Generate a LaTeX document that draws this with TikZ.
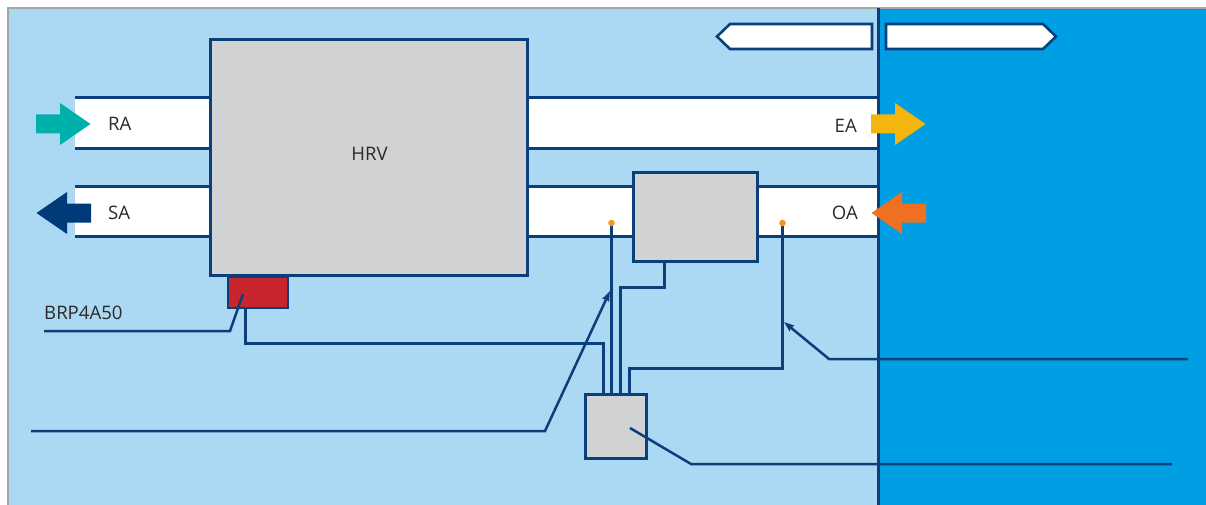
\documentclass[tikz,border=0pt]{standalone}
\usepackage{fontspec}
\setmainfont{Open Sans}
\usetikzlibrary{arrows.meta}
\definecolor{indoor}{HTML}{ABD9F4}
\definecolor{outdoor}{HTML}{009FE3}
\definecolor{navy}{HTML}{0B3F7B}
\definecolor{unitgrey}{HTML}{D0D2D3}
\definecolor{edge}{HTML}{A3A5A7}
\definecolor{teal}{HTML}{00B0AA}
\definecolor{supply}{HTML}{003A78}
\definecolor{exhaust}{HTML}{F4B50F}
\definecolor{intake}{HTML}{EE7020}
\definecolor{sensordot}{HTML}{F7941D}
\definecolor{adapter}{HTML}{C8242B}
\definecolor{labeltext}{HTML}{2B2A29}

\begin{document}
\begin{tikzpicture}[x=1pt,y=-1pt,
	every node/.style={font=\fontsize{18.6}{22}\selectfont, text=labeltext, inner sep=0pt},
	unit/.style={draw=navy, line width=2.6pt, fill=unitgrey, minimum width=#1},
	wire/.style={draw=navy, line width=3pt},
	leader/.style={draw=navy, line width=2.5pt}]
	\useasboundingbox (0,0) rectangle (1206,505);
	\fill[indoor] (8,8) rectangle (878,505);
	\fill[outdoor] (878,8) rectangle (1206,505);
	\draw[edge, line width=2.4pt] (8,505) -- (8,8) -- (1206,8);

	% ducts
	\foreach \ytop/\ybot in {98/149, 186/236} {
		\fill[white] (75,\ytop) rectangle (877,\ybot);
		\draw[wire] (75,\ytop) -- (878,\ytop);
		\draw[wire] (75,\ybot) -- (878,\ybot);
	}
	\draw[navy, line width=3pt] (878,8) -- (878,505);

	\node[unit=317.5pt, minimum height=236.5pt] (hrv) at (369,157.5) {};
	\node at (369.5,154) {HRV};
	\node[unit=124.5pt, minimum height=89.5pt] (damper) at (695.5,217) {};
	\node[unit=61.5pt, minimum height=64.5pt] (ctrl) at (616,426.5) {};
	\node[draw=navy, line width=2.4pt, fill=adapter, minimum width=60pt, minimum height=31pt] (adapt) at (258,292.5) {};

	\node[anchor=west] (ra) at (108,124) {RA};
	\node[anchor=west] (sa) at (108,213) {SA};
	\node[anchor=east] (ea) at (857,126) {EA};
	\node[anchor=east] (oa) at (858,213) {OA};
	\node[anchor=west] (brp) at (44,313) {BRP4A50};

	% flow arrows
	\foreach \xa/\ya/\d/\col in {36/124/1/teal, 91/213/-1/supply, 871/124/1/exhaust, 926/213/-1/intake} {
		\fill[\col] (\xa,\ya-9.5) -- ++(\d*24,0) -- ++(0,-11.5) -- (\xa+\d*54.5,\ya) -- (\xa+\d*24,\ya+21) -- ++(0,-11.5) -- (\xa,\ya+9.5) -- cycle;
	}

	% wiring
	\coordinate (probe1) at (611,224);
	\coordinate (probe2) at (782,224);
	\draw[wire] (adapt.south -| 245,0) -- (245,343) -- (603,343) -- (ctrl.north -| 603,0);
	\draw[wire] (probe1) -- (ctrl.north -| 611,0);
	\draw[wire] (damper.south -| 664,0) -- (664,287) -- (620,287) -- (ctrl.north -| 620,0);
	\draw[wire] (probe2) -- (782,368) -- (629,368) -- (ctrl.north -| 629,0);
	\foreach \p in {probe1, probe2}
		\fill[sensordot] (\p) ++(0.5,-1) circle (3.3);

	% leaders
	\coordinate (adapttip) at (243,294);
	\coordinate (brpend) at (44,331);
	\coordinate (sensortip) at (610,291);
	\coordinate (sensorend) at (31,431);
	\coordinate (probetip) at (784,322);
	\coordinate (probeend) at (1188,359);
	\coordinate (ctrltip) at (630,428);
	\coordinate (ctrlend) at (1172,464);
	\draw[leader] (brpend) -- (230,331) -- (adapttip);
	\draw[leader, -{Stealth[length=10pt,width=7pt,inset=1pt,fill=labeltext]}] (sensorend) -- (545,431) -- (sensortip);
	\draw[leader, -{Stealth[length=10pt,width=7pt,inset=1pt]}] (probeend) -- (829,359) -- (probetip);
	\draw[leader] (ctrlend) -- (691,464) -- (ctrltip);

	% direction tags
	\draw[navy, line width=2.6pt, fill=white] (717,36.5) -- (730,24) -- (872,24) -- (872,49) -- (730,49) -- cycle;
	\draw[navy, line width=2.6pt, fill=white] (886,24) -- (1043,24) -- (1056,36.5) -- (1043,49) -- (886,49) -- cycle;
\end{tikzpicture}
\end{document}
